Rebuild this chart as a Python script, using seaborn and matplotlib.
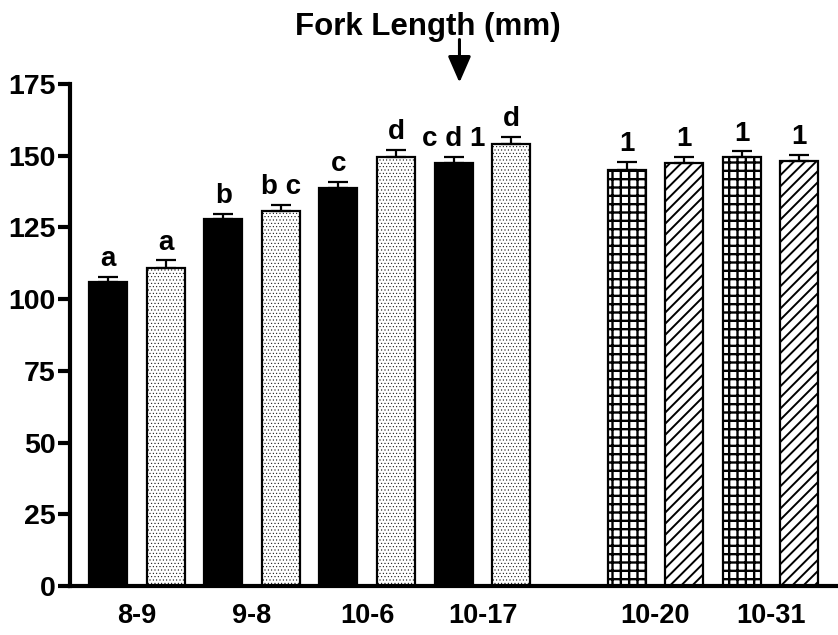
import numpy as np
import pandas as pd
import matplotlib
matplotlib.use("Agg")
import matplotlib.pyplot as plt
import seaborn as sns

# sampling dates and the two bars drawn at each date
dates = ["8-9", "9-8", "10-6", "10-17", "10-20", "10-31"]
bar_ids = ["8-9 a", "8-9 b", "9-8 a", "9-8 b", "10-6 a", "10-6 b",
           "10-17 a", "10-17 b", "10-20 a", "10-20 b", "10-31 a", "10-31 b"]
bar_date = ["8-9", "8-9", "9-8", "9-8", "10-6", "10-6",
            "10-17", "10-17", "10-20", "10-20", "10-31", "10-31"]
fork_length = [106.1, 111.0, 127.9, 130.9, 138.9, 149.7,
               147.4, 154.2, 145.1, 147.4, 149.4, 148.0]
sem = [1.7, 2.5, 1.7, 2.0, 2.0, 2.4, 2.3, 2.5, 2.7, 2.3, 2.1, 2.3]
letters = ["a", "a", "b", "b c", "c", "d", "c d 1", "d", "1", "1", "1", "1"]
fills = ["solid", "dots", "solid", "dots", "solid", "dots", "solid", "dots",
         "grid", "diag", "grid", "diag"]

df = pd.DataFrame({"bar": bar_ids, "date": bar_date, "fl": fork_length})

# empty slot between the two sets of bars
order = bar_ids[:8] + ["gap"] + bar_ids[8:]

sns.set_style("ticks", {"axes.edgecolor": "black", "xtick.color": "black",
                        "ytick.color": "black", "text.color": "black"})
plt.rcParams["font.family"] = ["Liberation Sans", "DejaVu Sans"]
plt.rcParams["font.weight"] = "bold"
plt.rcParams["text.color"] = "black"
plt.rcParams["hatch.linewidth"] = 1.3

fig = plt.figure(figsize=(8.38, 6.35), dpi=100)
ax = fig.add_axes([0.0835, 0.0772, 0.9165, 0.7905])

sns.barplot(data=df, x="bar", y="fl", order=order, color="black",
            width=0.66, errorbar=None, ax=ax)

styles = {
    "solid": dict(facecolor="black", hatch=None, hlw=1.3),
    "dots": dict(facecolor="white", hatch=".....", hlw=0.35),
    "grid": dict(facecolor="white", hatch="++", hlw=1.7),
    "diag": dict(facecolor="white", hatch="///", hlw=1.4),
}

pos = [order.index(b) for b in bar_ids]
patches = sorted(ax.patches, key=lambda p: p.get_x())
for p, f in zip(patches, fills):
    p.set_facecolor(styles[f]["facecolor"])
    p.set_edgecolor("black")
    p.set_linewidth(1.6)
    if styles[f]["hatch"]:
        p.set_hatch(styles[f]["hatch"])
        if hasattr(p, "set_hatch_linewidth"):
            p.set_hatch_linewidth(styles[f]["hlw"])

ax.errorbar(pos, fork_length, yerr=[np.zeros(len(sem)), sem], fmt="none",
            ecolor="black", elinewidth=1.6, capsize=7, capthick=1.6, zorder=3)

for x, m, e, t in zip(pos, fork_length, sem, letters):
    ax.text(x, m + e + 3.8, t, ha="center", va="baseline", color="black",
            fontsize=20, fontweight="bold")

# x labels in the middle of each pair
tick_pos = [np.mean([order.index(b) for b, d in zip(bar_ids, bar_date) if d == dt])
            for dt in dates]
ax.set_xticks(tick_pos)
ax.set_xticklabels(dates, fontsize=19.5, fontweight="bold", color="black")
ax.tick_params(axis="x", length=0, pad=12)

ax.set_ylim(0, 175)
ax.set_yticks(np.arange(0, 176, 25))
ax.tick_params(axis="y", length=8.5, width=3, labelsize=20.5, pad=2,
               colors="black")
for lab in ax.get_yticklabels():
    lab.set_fontweight("bold")

ax.set_xlim(-0.66, 12.67)
ax.set_xlabel("")
ax.set_ylabel("")
sns.despine(ax=ax)
ax.spines["left"].set_linewidth(3)
ax.spines["bottom"].set_linewidth(3)

# arrow pointing down at the 10-17 pair
ax_arrow = order.index("10-17 a") + 0.1
ax.annotate("", xy=(ax_arrow, 175.5), xytext=(ax_arrow, 190.5),
            arrowprops=dict(arrowstyle="-|>,head_length=0.8,head_width=0.35",
                            color="black", lw=2.2, mutation_scale=20,
                            shrinkA=0, shrinkB=0),
            annotation_clip=False)

fig.text(0.511, 0.958, "Fork Length (mm)", ha="center", va="center",
         fontsize=22.5, fontweight="bold", color="black")

fig.savefig("out.png", dpi=100)
